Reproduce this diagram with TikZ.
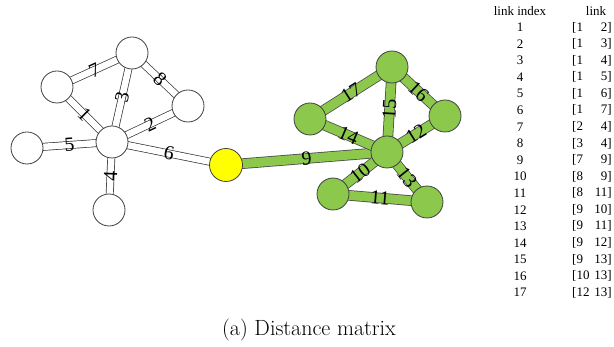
\documentclass[tikz,border=0pt]{standalone}
\usepackage{fontspec}
\newfontfamily\timesfont{Liberation Serif}
\usetikzlibrary{backgrounds}
\definecolor{nodegreen}{RGB}{140,200,75}
\definecolor{nodeyellow}{RGB}{255,255,0}

\begin{document}
\begin{tikzpicture}[x=1pt,y=-1pt,
    every node/.style={font=\timesfont\fontsize{13}{15}\selectfont,inner sep=0pt},
    vertex/.style={circle,draw=black!75,line width=0.8pt,minimum size=32pt},
    plainvertex/.style={vertex,fill=white},
    greenvertex/.style={vertex,fill=nodegreen},
    hubvertex/.style={vertex,fill=nodeyellow,minimum size=33pt},
    plainlink/.style={draw=black!80,line width=0.7pt,double=white,double distance=6.5pt},
    greenlink/.style={draw=black!70,line width=0.8pt,double=nodegreen,double distance=9pt},
    linklabel/.style={midway,sloped,font=\timesfont\fontsize{20}{20}\selectfont}]
    \useasboundingbox (0,0) rectangle (614,347);

    \foreach \n/\x/\y in {1/112/142,2/57/87,3/188/106,4/132/53,5/109/210,6/27/148}
      \node[plainvertex] (v\n) at (\x,\y) {};
    \node[hubvertex] (v7) at (226,165) {};
    \foreach \n/\x/\y in {8/333/194,9/387/152,10/445/116,11/427/202,12/310/119,13/392/67}
      \node[greenvertex] (v\n) at (\x,\y) {};

    \begin{scope}[on background layer]
      \foreach \a/\b/\k in {1/2/1,1/3/2,1/4/3,1/5/4,1/6/5,1/7/6,2/4/7,3/4/8}
        \draw[plainlink] (v\a.center) -- (v\b.center) node[linklabel] (e\k) {\k};
      \foreach \a/\b/\k in {7/9/9,8/9/10,8/11/11,9/10/12,9/11/13,9/12/14,9/13/15,10/13/16,12/13/17}
        \draw[greenlink] (v\a.center) -- (v\b.center) node[linklabel] (e\k) {\k};
    \end{scope}

    \node (hidx) at (520,11) {link index};
    \node (hlink) at (596,11) {link};
    \foreach \i/\a/\b in {1/1/2,2/1/3,3/1/4,4/1/5,5/1/6,6/1/7,7/2/4,8/3/4,9/7/9,
        10/8/9,11/8/11,12/9/10,13/9/11,14/9/12,15/9/13,16/10/13,17/12/13} {
      \node (idx\i) at (520,{11+16.56*\i}) {\i};
      \node[anchor=west] (la\i) at (572,{11+16.56*\i}) {[\a};
      \node[anchor=east] (lb\i) at (612,{11+16.56*\i}) {\b]};
    }

    \node[font=\rmfamily\fontsize{22}{26}\selectfont] (caption) at (309,330) {(a) Distance matrix};
  \end{tikzpicture}
\end{document}
